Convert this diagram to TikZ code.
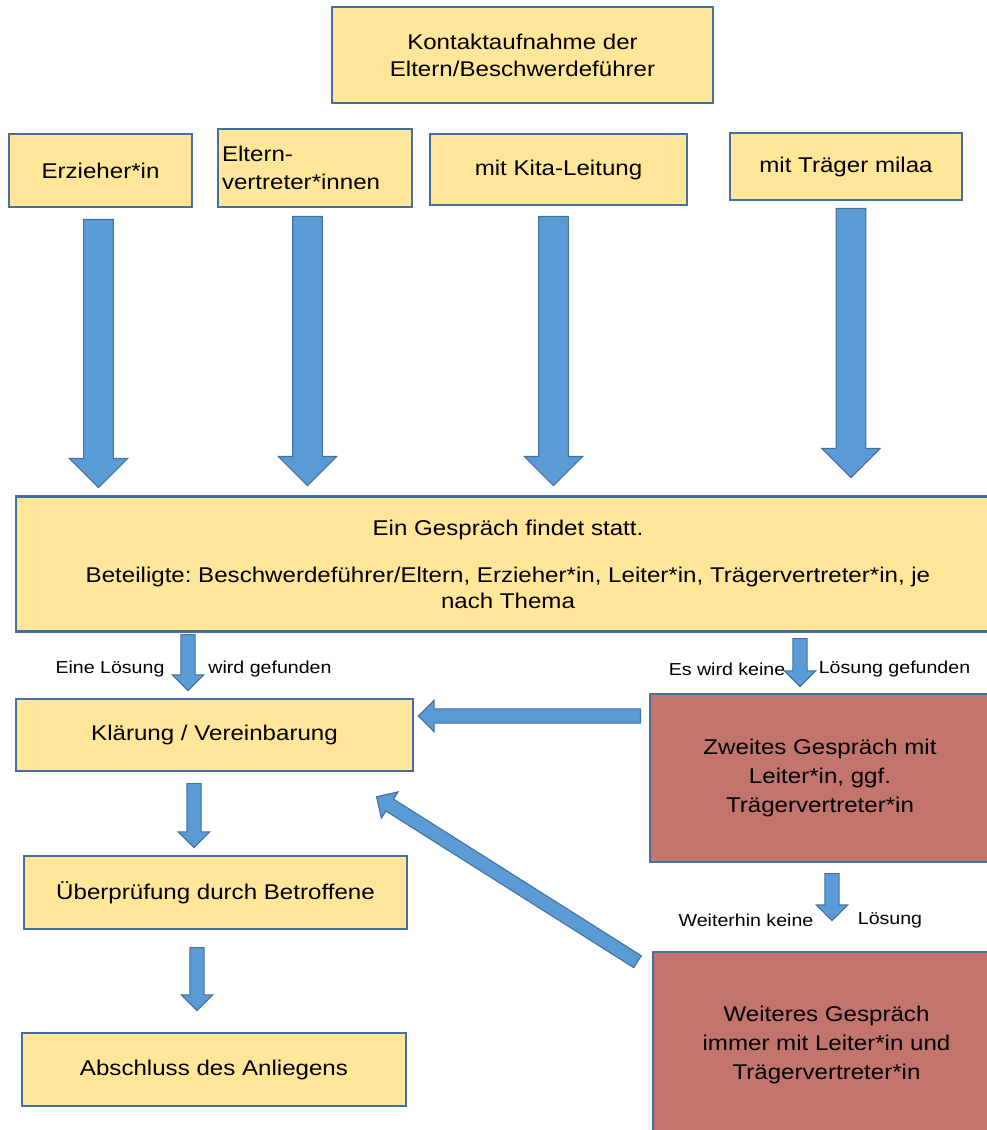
\documentclass[tikz,border=0pt]{standalone}
\usepackage{fontspec}
\setmainfont{Liberation Sans}[FakeStretch=1.13]
\frenchspacing
\usetikzlibrary{shapes.arrows,calc}

\definecolor{boxfill}{RGB}{255,230,153}
\definecolor{boxline}{RGB}{65,113,156}
\definecolor{redfill}{RGB}{195,116,108}
\definecolor{arrowfill}{RGB}{91,155,213}

\tikzset{
  box/.style = {draw=boxline, fill=boxfill, line width=1.6pt,
                inner sep=3pt, align=center,
                font=\fontsize{16}{20.25}\selectfont},
  redbox/.style = {box, fill=redfill, font=\fontsize{16}{22}\selectfont},
  note/.style = {inner sep=0pt, font=\fontsize{13}{15}\selectfont},
  bigarrow/.style = {single arrow, draw=boxline, fill=arrowfill,
                line width=0.8pt, inner xsep=0pt, inner ysep=10.7pt,
                minimum width=42.8pt, single arrow head extend=10.7pt},
  smallarrow/.style = {bigarrow, inner ysep=4.9pt, minimum width=22.6pt,
                single arrow head extend=6.4pt},
  blockto/.style = {to path={let \p1=(\tikztostart), \p2=(\tikztotarget),
                \n1={atan2(\y2-\y1,\x2-\x1)},
                \n2={veclen(\x2-\x1,\y2-\y1)} in
                node[#1, rotate=\n1, minimum height=\n2, anchor=tail] at (\p1) {}}}
}

\begin{document}
\begin{tikzpicture}[x=0.75pt, y=-0.75pt]
	\def\px{0.75pt}
	\useasboundingbox (0,0) rectangle (986,1130);

	% Start
	\node[box, minimum width=381*\px, minimum height=96*\px] (kontakt) at (522.5,55)
		{Kontaktaufnahme der\\Eltern/Beschwerdeführer};

	% Contact persons
	\node[box, minimum width=183*\px, minimum height=73*\px] (erz) at (100.5,170.5) {Erzieher*in};
	\node[box, minimum width=194*\px, minimum height=78*\px, align=left, text width=186*\px,
		font=\fontsize{16}{21}\selectfont] (elt) at (315,168) {Eltern-\\vertreter*innen};
	\node[box, minimum width=257*\px, minimum height=71*\px] (kita) at (558.5,169.5) {mit Kita-Leitung};
	\node[box, minimum width=232*\px, minimum height=67*\px] (traeger) at (846,166.5) {mit Träger milaa};

	% Talk
	\node[box, minimum width=984*\px, minimum height=135*\px,
		font=\fontsize{16}{19.5}\selectfont] (talk) at (508,564)
		{Ein Gespräch findet statt.\\[15.75pt]Beteiligte: Beschwerdeführer/Eltern, Erzieher*in, Leiter*in, Trägervertreter*in, je\\nach Thema};

	% Left column
	\node[box, minimum width=397*\px, minimum height=72*\px] (klaer) at (214.5,735) {Klärung / Vereinbarung};
	\node[box, minimum width=383*\px, minimum height=73*\px] (pruef) at (215.5,892.5) {Überprüfung durch Betroffene};
	\node[box, minimum width=384*\px, minimum height=73*\px] (ende) at (214,1069.5) {Abschluss des Anliegens};

	% Right column
	\node[redbox, minimum width=340*\px, minimum height=168*\px] (zweit) at (820,778)
		{Zweites Gespräch mit\\Leiter*in, ggf.\\Trägervertreter*in};
	\node[redbox, minimum width=347*\px, minimum height=186*\px] (weiter) at (826.5,1045)
		{Weiteres Gespräch\\immer mit Leiter*in und\\Trägervertreter*in};

	% Notes
	\node[note] (ja1) at (110,669) {Eine Lösung};
	\node[note] (ja2) at (270,669) {wird gefunden};
	\node[note] (nein1) at (727,669) {Es wird keine};
	\node[note] (nein2) at (894.5,669) {Lösung gefunden};
	\node[note] (noch1) at (746,920) {Weiterhin keine};
	\node[note] (noch2) at (890,920) {Lösung};

	% Big arrows
	\coordinate (erzA) at (98.5,219);     \coordinate (erzB) at (98.5,487);
	\coordinate (eltA) at (307.5,216);    \coordinate (eltB) at (307.5,485);
	\coordinate (kitaA) at (553.5,216);   \coordinate (kitaB) at (553.5,485);
	\coordinate (trA) at (851,208);       \coordinate (trB) at (851,477);
	\path (erzA) to[blockto=bigarrow] (erzB);
	\path (eltA) to[blockto=bigarrow] (eltB);
	\path (kitaA) to[blockto=bigarrow] (kitaB);
	\path (trA) to[blockto=bigarrow] (trB);

	% Small arrows
	\coordinate (jaA) at (188,634);       \coordinate (jaB) at (188,690);
	\coordinate (neinA) at (800,638);     \coordinate (neinB) at (800,686);
	\coordinate (backA) at (641,716);     \coordinate (backB) at (419,716);
	\coordinate (klaerA) at (194,783);    \coordinate (klaerB) at (194,847);
	\coordinate (pruefA) at (197,947);    \coordinate (pruefB) at (197,1010);
	\coordinate (nochA) at (832,873);     \coordinate (nochB) at (832,920);
	\coordinate (diagA) at (638,962);     \coordinate (diagB) at (377,797);
	\path (jaA) to[blockto=smallarrow] (jaB);
	\path (neinA) to[blockto=smallarrow] (neinB);
	\path (backA) to[blockto=smallarrow] (backB);
	\path (klaerA) to[blockto=smallarrow] (klaerB);
	\path (pruefA) to[blockto=smallarrow] (pruefB);
	\path (nochA) to[blockto=smallarrow] (nochB);
	\path (diagA) to[blockto=smallarrow] (diagB);

\end{tikzpicture}
\end{document}
